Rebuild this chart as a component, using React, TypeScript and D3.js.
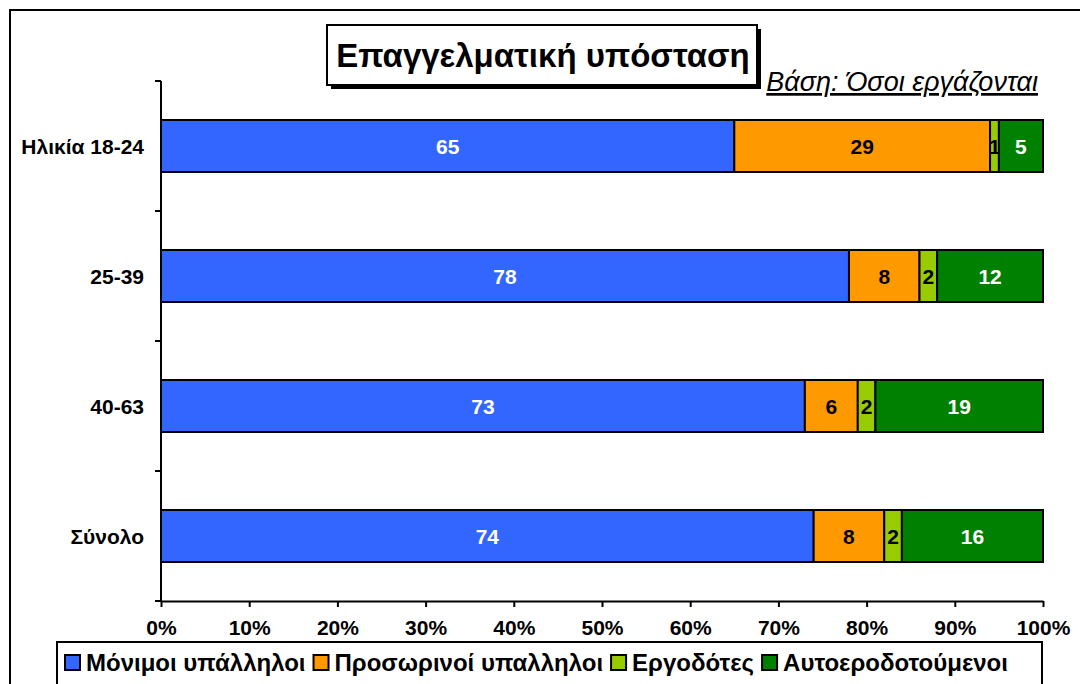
import React, { useEffect, useRef } from 'react';
import { select, scaleLinear, scaleBand, axisBottom, stack } from 'd3';

const categories = ['Ηλικία 18-24', '25-39', '40-63', 'Σύνολο'];
const seriesKeys = ['Μόνιμοι υπάλληλοι', 'Προσωρινοί υπαλληλοι', 'Εργοδότες', 'Αυτοεροδοτούμενοι'];
const permanent = [65, 78, 73, 74];
const temporary = [29, 8, 6, 8];
const employers = [1, 2, 2, 2];
const selfEmployed = [5, 12, 19, 16];
const xTicks = [0, 10, 20, 30, 40, 50, 60, 70, 80, 90, 100];

const colors = ['#3366FF', '#FF9900', '#99CC00', '#008000'];
const labelColors = ['#FFFFFF', '#000000', '#000000', '#FFFFFF'];
const FONT = '"Liberation Sans", Arial, sans-serif';

const App = () => {
  const svgRef = useRef<SVGSVGElement>(null);

  useEffect(() => {
    document.body.style.margin = '0';
    const svg = select(svgRef.current);
    svg.selectAll('*').remove();

    const left = 161, right = 1043, top = 81, bottom = 601;

    const rows = categories.map((c, i) => ({
      label: c,
      [seriesKeys[0]]: permanent[i],
      [seriesKeys[1]]: temporary[i],
      [seriesKeys[2]]: employers[i],
      [seriesKeys[3]]: selfEmployed[i],
    }));
    const layers = stack<any>().keys(seriesKeys)(rows);

    const xScale = scaleLinear().domain([0, 100]).range([left, right]);
    const yScale = scaleBand().domain(categories).range([top, bottom]).paddingInner(0.6).paddingOuter(0.3);

    // outer frame
    svg.append('path')
      .attr('d', `M10,${684} V10 H1080`)
      .attr('fill', 'none').attr('stroke', '#000').attr('stroke-width', 2);

    // bars
    const g = svg.append('g');
    layers.forEach((layer, li) => {
      const lg = g.append('g').attr('fill', colors[li]);
      lg.selectAll('rect')
        .data(layer)
        .join('rect')
        .attr('x', d => xScale(d[0]))
        .attr('y', d => yScale(d.data.label)!)
        .attr('width', d => xScale(d[1]) - xScale(d[0]))
        .attr('height', yScale.bandwidth())
        .attr('stroke', '#000')
        .attr('stroke-width', 2);
      lg.selectAll('text')
        .data(layer)
        .join('text')
        .attr('x', d => (xScale(d[0]) + xScale(d[1])) / 2)
        .attr('y', d => yScale(d.data.label)! + yScale.bandwidth() / 2)
        .attr('dy', '0.36em')
        .attr('text-anchor', 'middle')
        .attr('fill', labelColors[li])
        .attr('font-family', FONT)
        .attr('font-weight', 'bold')
        .attr('font-size', 21)
        .text(d => d[1] - d[0]);
    });

    // y axis
    const step = yScale.step();
    const yAxis = svg.append('g');
    yAxis.append('line')
      .attr('x1', left).attr('x2', left).attr('y1', top).attr('y2', bottom)
      .attr('stroke', '#000').attr('stroke-width', 2);
    yAxis.selectAll('.ytick')
      .data(categories.concat(['']))
      .join('line')
      .attr('class', 'ytick')
      .attr('x1', left - 6).attr('x2', left)
      .attr('y1', (d, i) => top + step * i).attr('y2', (d, i) => top + step * i)
      .attr('stroke', '#000').attr('stroke-width', 2);
    yAxis.selectAll('.ylabel')
      .data(categories)
      .join('text')
      .attr('class', 'ylabel')
      .attr('x', 144)
      .attr('y', d => yScale(d)! + yScale.bandwidth() / 2)
      .attr('dy', '0.36em')
      .attr('text-anchor', 'end')
      .attr('font-family', FONT)
      .attr('font-weight', 'bold')
      .attr('font-size', 21)
      .text(d => d);

    // x axis
    const xAxis = axisBottom(xScale)
      .tickValues(xTicks)
      .tickFormat(d => `${d}%`)
      .tickSize(6)
      .tickSizeOuter(0)
      .tickPadding(13);
    const xg = svg.append('g').attr('transform', `translate(0,${bottom})`).call(xAxis);
    xg.select('.domain').attr('stroke', '#000').attr('stroke-width', 2);
    xg.selectAll('.tick line').attr('stroke', '#000').attr('stroke-width', 2);
    xg.selectAll('.tick text')
      .attr('fill', '#000')
      .attr('font-family', FONT)
      .attr('font-weight', 'bold')
      .attr('font-size', 21);

    // title box
    svg.append('rect')
      .attr('x', 331).attr('y', 29).attr('width', 430).attr('height', 60).attr('fill', '#000');
    svg.append('rect')
      .attr('x', 327).attr('y', 25).attr('width', 430).attr('height', 60)
      .attr('fill', '#fff').attr('stroke', '#000').attr('stroke-width', 2);
    svg.append('text')
      .attr('x', 543).attr('y', 67)
      .attr('text-anchor', 'middle')
      .attr('font-family', FONT)
      .attr('font-weight', 'bold')
      .attr('font-size', 33)
      .text('Επαγγελματική υπόσταση');
    svg.append('text')
      .attr('x', 1038).attr('y', 91)
      .attr('text-anchor', 'end')
      .attr('font-family', FONT)
      .attr('font-style', 'italic')
      .attr('text-decoration', 'underline')
      .attr('font-size', 27)
      .text('Βάση: Όσοι εργάζονται');

    // legend, items laid out one after another
    svg.append('rect')
      .attr('x', 57).attr('y', 642).attr('width', 985).attr('height', 60)
      .attr('fill', '#fff').attr('stroke', '#000').attr('stroke-width', 2);
    let lx = 65;
    seriesKeys.forEach((k, i) => {
      svg.append('rect')
        .attr('x', lx).attr('y', 655).attr('width', 15).attr('height', 15)
        .attr('fill', colors[i]).attr('stroke', '#000').attr('stroke-width', 2);
      const t = svg.append('text')
        .attr('x', lx + 21).attr('y', 671)
        .attr('font-family', FONT)
        .attr('font-weight', 'bold')
        .attr('font-size', 24)
        .text(k);
      const w = (t.node() as SVGTextElement).getComputedTextLength();
      lx = lx + 21 + w + 8;
    });
  }, []);

  return (
    <svg ref={svgRef} width={1080} height={684} style={{ display: 'block', background: '#fff' }} />
  );
};

export default App;
